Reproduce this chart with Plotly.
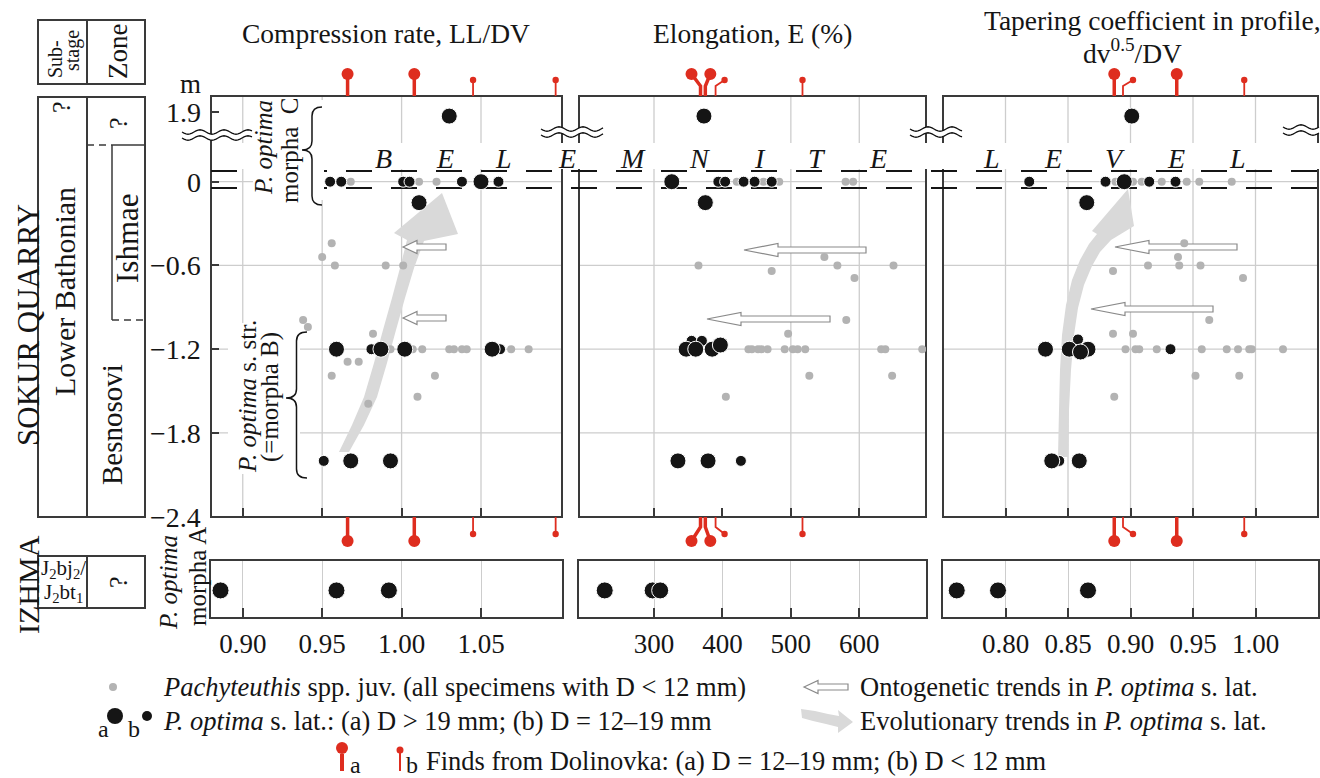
import numpy as np
import plotly.graph_objects as go

W, H = 1320, 778
FONT = "Liberation Serif"
INK = "#151515"
FRAME = "#3a3a3a"
GRID = "#cdcdcd"
JUV = "#b3b3b3"
RED = "#de2d1f"
EVO = "#d9d9d9"

# ============================ DATA ============================
# depth (m) relative to the Belemnite Level (0 m); 1.87 m lies above the scale break
depth_ticks = [1.9, 0, -0.6, -1.2, -1.8, -2.4]
depth_ticktext = ["1.9", "0", "\u22120.6", "\u22121.2", "\u22121.8", "\u22122.4"]

# --- Compression rate, LL/DV ---
cr_ticks = [0.90, 0.95, 1.00, 1.05]
cr_ticktext = ["0.90", "0.95", "1.00", "1.05"]
cr_juv_val = [0.956, 0.950, 0.958, 0.990, 1.001, 0.938, 0.941, 0.982, 0.966, 0.973,
              0.956, 1.021, 1.010, 0.979, 0.993, 1.007, 1.013, 1.030, 1.033, 1.038,
              1.041, 1.069, 1.080, 0.968, 1.011, 1.022]
cr_juv_dep = [-0.44, -0.54, -0.60, -0.60, -0.60, -0.99, -1.04, -1.09, -1.29, -1.29,
              -1.39, -1.39, -1.54, -1.59, -1.2, -1.2, -1.2, -1.2, -1.2, -1.2,
              -1.2, -1.2, -1.2, 0, 0, 0]
cr_a_val = [1.030, 1.050, 1.011, 0.959, 0.987, 1.002, 1.057, 0.968, 0.993]
cr_a_dep = [1.87, 0, -0.15, -1.2, -1.2, -1.2, -1.2, -2.0, -2.0]
cr_b_val = [0.955, 0.962, 1.001, 1.005, 1.038, 1.061, 0.981, 1.062, 0.951]
cr_b_dep = [0, 0, 0, 0, 0, 0, -1.2, -1.2, -2.0]
cr_izhma = [0.886, 0.959, 0.992]
cr_dol = [0.966, 1.008, 1.045, 1.097]
cr_dol_size = ["a", "a", "b", "b"]

# --- Elongation, E (%) ---
el_ticks = [300, 400, 500, 600]
el_ticktext = ["300", "400", "500", "600"]
el_juv_val = [549, 365, 568, 650, 472, 593, 581, 496,
              438, 443, 452, 457, 466, 491, 503, 510, 521, 632, 638, 692,
              527, 648, 405, 421, 460, 483, 580, 591]
el_juv_dep = [-0.54, -0.60, -0.60, -0.60, -0.64, -0.69, -0.99, -1.09,
              -1.2, -1.2, -1.2, -1.2, -1.2, -1.2, -1.2, -1.2, -1.2, -1.2, -1.2, -1.2,
              -1.39, -1.39, -1.54, 0, 0, 0, 0, 0]
el_a_val = [373, 326, 375, 347, 361, 385, 397, 335, 379]
el_a_dep = [1.87, 0, -0.15, -1.2, -1.2, -1.2, -1.17, -2.0, -2.0]
el_b_val = [394, 404, 431, 447, 472, 355, 370, 427]
el_b_dep = [0, 0, 0, 0, 0, -1.14, -1.14, -2.0]
el_izhma = [228, 298, 309]
el_dol = [368, 375, 390, 517]
el_dol_size = ["a", "a", "b", "b"]

# --- Tapering coefficient in profile, dv^0.5/DV ---
tp_ticks = [0.80, 0.85, 0.90, 0.95, 1.00]
tp_ticktext = ["0.80", "0.85", "0.90", "0.95", "1.00"]
tp_juv_val = [0.943, 0.938, 0.914, 0.939, 0.956, 0.886, 0.990, 0.963, 0.886, 0.902,
              0.896, 0.904, 0.907, 0.921, 0.957, 0.977, 0.986, 0.995, 0.997, 1.022,
              0.952, 0.987, 0.887, 0.888, 0.902, 0.909, 0.925, 0.945, 0.955, 0.981]
tp_juv_dep = [-0.44, -0.54, -0.60, -0.60, -0.60, -0.64, -0.69, -0.99, -1.09, -1.09,
              -1.2, -1.2, -1.2, -1.2, -1.2, -1.2, -1.2, -1.2, -1.2, -1.2,
              -1.39, -1.39, -1.54, 0, 0, 0, 0, 0, 0, 0]
tp_a_val = [0.901, 0.895, 0.865, 0.832, 0.851, 0.866, 0.860, 0.837, 0.859]
tp_a_dep = [1.87, 0, -0.15, -1.2, -1.2, -1.2, -1.22, -2.0, -2.0]
tp_b_val = [0.819, 0.880, 0.915, 0.936, 0.932, 0.858, 0.843]
tp_b_dep = [0, 0, 0, 0, -1.2, -1.13, -2.0]
tp_izhma = [0.761, 0.794, 0.866]
tp_dol = [0.887, 0.894, 0.937, 0.991]
tp_dol_size = ["a", "b", "a", "b"]

belemnite_letters = list("BELEMNITELEVEL")

# ============================ LAYOUT PARAMETERS ============================
BREAK_SHIFT = 1.4          # depths above the break are drawn 1.4 m lower
Y_RANGE = [-2.402, 0.614]
MAIN_TOP, MAIN_BOT = 96, 517
IZ_TOP, IZ_BOT = 561, 616.5
TXT = 27                   # tick text size
TTL = 27.5                 # titles
LEG = 26.5                 # legend text
PANELS = [
    dict(rng=[0.880, 1.101], dom=[211, 562], ticks=cr_ticks, tt=cr_ticktext, grid=cr_ticks,
         juv=(cr_juv_val, cr_juv_dep), a=(cr_a_val, cr_a_dep), b=(cr_b_val, cr_b_dep),
         iz=cr_izhma, dol=cr_dol, dsz=cr_dol_size, doff=[0, 0, 0, 0]),
    dict(rng=[190.4, 697.5], dom=[579, 926], ticks=el_ticks, tt=el_ticktext, grid=[300, 500, 600],
         juv=(el_juv_val, el_juv_dep), a=(el_a_val, el_a_dep), b=(el_b_val, el_b_dep),
         iz=el_izhma, dol=el_dol, dsz=el_dol_size, doff=[-9, 5, 9, 0]),
    dict(rng=[0.75, 1.05], dom=[943, 1318], ticks=tp_ticks, tt=tp_ticktext, grid=tp_ticks,
         juv=(tp_juv_val, tp_juv_dep), a=(tp_a_val, tp_a_dep), b=(tp_b_val, tp_b_dep),
         iz=tp_izhma, dol=tp_dol, dsz=tp_dol_size, doff=[0, 10, 0, 0]),
]


def PX(x):
    return x / W


def PY(y):
    return 1 - y / H


def P(x, y):
    return f"{PX(x):.5f},{PY(y):.5f}"


def disp(d):
    return d - BREAK_SHIFT if d > 1 else d


def poly(pts, close=True):
    return "M " + " L ".join(P(x, y) for x, y in pts) + (" Z" if close else "")


fig = go.Figure()
shapes = []
annotations = []


def ann(text, x, y, size=TXT, angle=0, xanchor="center", yanchor="middle", color=INK, height=None):
    a = dict(text=text, x=PX(x), y=PY(y), xref="paper", yref="paper",
             showarrow=False, textangle=angle, xanchor=xanchor, yanchor=yanchor,
             font=dict(family=FONT, size=size, color=color))
    if height:
        a["height"] = height
    annotations.append(a)


def line_px(x0, y0, x1, y1, color=FRAME, width=2, dash=None):
    d = dict(type="line", xref="paper", yref="paper", x0=PX(x0), y0=PY(y0), x1=PX(x1), y1=PY(y1),
             line=dict(color=color, width=width), layer="below")
    if dash:
        d["line"]["dash"] = dash
    shapes.append(d)


def rect_px(x0, y0, x1, y1, fill=None, color=FRAME, width=2):
    shapes.append(dict(type="rect", xref="paper", yref="paper", x0=PX(x0), y0=PY(y1), x1=PX(x1), y1=PY(y0),
                       fillcolor=fill if fill else "rgba(0,0,0,0)",
                       line=dict(color=color, width=width), layer="below"))


def circ_px(cx, cy, r, color):
    shapes.append(dict(type="circle", xref="paper", yref="paper", x0=PX(cx - r), x1=PX(cx + r),
                       y0=PY(cy + r), y1=PY(cy - r), fillcolor=color, line=dict(width=0), layer="below"))


# ---------------- axes ----------------
layout_axes = {}
for i, p in enumerate(PANELS):
    n = i + 1
    xs = "" if n == 1 else str(n)
    dom = [PX(p["dom"][0]), PX(p["dom"][1])]
    layout_axes[f"xaxis{xs}"] = dict(domain=dom, range=p["rng"], anchor=f"y{xs}", showgrid=False,
                                     zeroline=False, showline=False, ticks="inside", ticklen=9,
                                     tickwidth=1.6, tickcolor=FRAME, tickvals=p["ticks"],
                                     showticklabels=False, automargin=False)
    yax = dict(domain=[PY(MAIN_BOT), PY(MAIN_TOP)], range=Y_RANGE, anchor=f"x{xs}", showgrid=False,
               zeroline=False, showline=False, showticklabels=False, automargin=False)
    if n == 1:
        yax.update(ticks="inside", ticklen=8, tickwidth=1.6, tickcolor=FRAME,
                   tickvals=[disp(t) for t in depth_ticks])
    else:
        yax.update(ticks="")
    layout_axes[f"yaxis{xs}"] = yax
    m = n + 3
    layout_axes[f"xaxis{m}"] = dict(domain=dom, range=p["rng"], anchor=f"y{m}", showgrid=True,
                                    gridcolor=GRID, gridwidth=1.3, zeroline=False, showline=True,
                                    mirror=True, linecolor=FRAME, linewidth=2, ticks="inside",
                                    ticklen=9, tickwidth=1.6, tickcolor=FRAME, tickvals=p["ticks"],
                                    ticktext=p["tt"], tickfont=dict(family=FONT, size=TXT, color=INK),
                                    ticklabelstandoff=2, automargin=False)
    layout_axes[f"yaxis{m}"] = dict(domain=[PY(IZ_BOT), PY(IZ_TOP)], range=[0, 1], anchor=f"x{m}",
                                    showgrid=False, zeroline=False, showline=True, mirror=True,
                                    linecolor=FRAME, linewidth=2, ticks="", showticklabels=False,
                                    automargin=False)

# depth tick labels, placed on the depth axis scale
for t, tt in zip(depth_ticks, depth_ticktext):
    annotations.append(dict(text=tt, x=PX(203), y=disp(t), xref="paper", yref="y", showarrow=False,
                            xanchor="right", yanchor="middle", height=28,
                            font=dict(family=FONT, size=28, color=INK)))

# ---------------- gridlines ----------------
for i, p in enumerate(PANELS):
    xs = "" if i == 0 else str(i + 1)
    for g in p["grid"]:
        shapes.append(dict(type="line", xref=f"x{xs}", yref="paper", x0=g, x1=g,
                           y0=PY(MAIN_BOT), y1=PY(MAIN_TOP), line=dict(color=GRID, width=1.3), layer="below"))
    for d in [0, -0.6, -1.2, -1.8]:
        shapes.append(dict(type="line", xref="paper", yref=f"y{xs}", x0=PX(p["dom"][0]), x1=PX(p["dom"][1]),
                           y0=d, y1=d, line=dict(color=GRID, width=1.3), layer="below"))

# evolutionary trend arrows (under the dots)
EVO1 = [(339, 452), (352, 425), (364, 397), (374, 363), (383, 330), (392, 298), (400, 268), (407, 240),
        (394, 233), (442, 193), (458, 234), (424, 241), (414, 268), (405, 298), (396, 330), (387, 363),
        (377, 397), (364, 425), (349, 452)]
EVO3 = [(1058, 457), (1059, 410), (1060, 370), (1062, 335), (1066, 305), (1072, 280), (1080, 260),
        (1089, 244), (1097, 234), (1092, 231), (1128, 189), (1134, 226), (1111, 240), (1100, 252),
        (1092, 266), (1084, 285), (1078, 308), (1074, 335), (1071, 370), (1069, 410), (1068, 457)]
for pts in (EVO1, EVO3):
    shapes.append(dict(type="path", xref="paper", yref="paper", path=poly(pts), fillcolor=EVO,
                       line=dict(width=0), layer="below"))

# panel frames
for p in PANELS:
    rect_px(p["dom"][0], MAIN_TOP, p["dom"][1], MAIN_BOT)

# white band carrying "BELEMNITE LEVEL"
rect_px(214, 143, W + 2, 169, fill="white", color="white", width=0)

# dashed limits of the Belemnite Level
line_px(211, 171, W, 171, color=INK, width=2.2, dash="26px,19px")
line_px(211, 188, W, 188, color=INK, width=2.2, dash="26px,19px")

# scale-break wavy marks
for x0, x1, yc in [(182, 252, 132), (541, 603, 129), (910, 962, 129), (1283, 1320, 127)]:
    xx = np.arange(x0, x1 + 1, 2.0)
    up = yc + 2.2 * np.sin(2 * np.pi * (xx - x0) / 24.0)
    lo = up + 6
    fillpts = list(zip(xx, up)) + list(zip(xx[::-1], lo[::-1]))
    shapes.append(dict(type="path", xref="paper", yref="paper", path=poly(fillpts), fillcolor="white",
                       line=dict(width=0), layer="below"))
    for yy in (up, lo):
        shapes.append(dict(type="path", xref="paper", yref="paper", path=poly(list(zip(xx, yy)), close=False),
                           line=dict(color=INK, width=1.4), layer="below"))

# white cover behind brace labels
rect_px(253, 100, 324, 200, fill="white", color="white", width=0)
rect_px(228, 323, 300, 474, fill="white", color="white", width=0)


def brace(xe, xt, yt, yc, yb, r=9):
    xm = (xe + xt) / 2
    return (f"M {P(xe, yt)} Q {P(xm, yt)} {P(xm, yt + r)} L {P(xm, yc - r)} Q {P(xm, yc)} {P(xt, yc)} "
            f"Q {P(xm, yc)} {P(xm, yc + r)} L {P(xm, yb - r)} Q {P(xm, yb)} {P(xe, yb)}")


for b in [(322, 302, 107, 150, 205), (307, 286, 332, 398, 478)]:
    shapes.append(dict(type="path", xref="paper", yref="paper", path=brace(*b),
                       line=dict(color=INK, width=1.5), layer="below"))


# ontogenetic trend arrows
def onto(xtail, xtip, y, hl, hh=6.5, sh=3):
    return [(xtip, y), (xtip + hl, y - hh), (xtip + hl, y - sh), (xtail, y - sh), (xtail, y + sh),
            (xtip + hl, y + sh), (xtip + hl, y + hh)]


for a in [(446, 403, 247, 14), (446, 403, 318, 14), (866, 744, 250, 34), (830, 707, 319, 34),
          (1237, 1115, 247, 34), (1213, 1091, 309, 34), (848, 804, 687, 14)]:
    shapes.append(dict(type="path", xref="paper", yref="paper", path=poly(onto(*a)), fillcolor="white",
                       line=dict(color="#8a8a8a", width=1.2), layer="below"))

# ---------------- data traces ----------------
for i, p in enumerate(PANELS):
    xs = "" if i == 0 else str(i + 1)
    xa, ya = f"x{xs}", f"y{xs}"
    jv, jd = p["juv"]
    fig.add_trace(go.Scatter(x=jv, y=[disp(d) for d in jd], mode="markers", xaxis=xa, yaxis=ya,
                             marker=dict(color=JUV, size=8, line=dict(width=0))))
    bv, bd = p["b"]
    fig.add_trace(go.Scatter(x=bv, y=[disp(d) for d in bd], mode="markers", xaxis=xa, yaxis=ya,
                             marker=dict(color=INK, size=11, line=dict(color="white", width=1))))
    av, ad = p["a"]
    fig.add_trace(go.Scatter(x=av, y=[disp(d) for d in ad], mode="markers", xaxis=xa, yaxis=ya,
                             marker=dict(color=INK, size=16, line=dict(color="white", width=1))))
    m = i + 4
    fig.add_trace(go.Scatter(x=p["iz"], y=[0.47] * len(p["iz"]), mode="markers", xaxis=f"x{m}", yaxis=f"y{m}",
                             marker=dict(color=INK, size=17, line=dict(color="white", width=1))))
    # Dolinovka finds, projected above and below the section (x through the panel axis)
    scale = (p["rng"][1] - p["rng"][0]) / (p["dom"][1] - p["dom"][0])
    for v, s, off in zip(p["dol"], p["dsz"], p["doff"]):
        dx = off * scale
        big = s == "a"
        w = 3.5 if big else 1.8
        r = 6 if big else 3.2
        for top in (True, False):
            edge = MAIN_TOP if top else MAIN_BOT
            sgn = -1 if top else 1
            cpy = edge + sgn * ((22 if big else 16) if top else (24 if big else 17))
            knee = edge + sgn * 10
            if off:
                path = f"M {v},{PY(edge):.5f} L {v},{PY(knee):.5f} L {v + dx},{PY(cpy):.5f}"
            else:
                path = f"M {v},{PY(edge):.5f} L {v},{PY(cpy):.5f}"
            shapes.append(dict(type="path", xref=xa, yref="paper", path=path,
                               line=dict(color=RED, width=w), layer="below"))
            shapes.append(dict(type="circle", xref=xa, yref="paper", x0=v + dx - r * scale,
                               x1=v + dx + r * scale, y0=PY(cpy + r), y1=PY(cpy - r),
                               fillcolor=RED, line=dict(width=0), layer="below"))

# ---------------- stratigraphic column ----------------
rect_px(38, 20, 87, 84)
rect_px(87, 20, 145, 84)
rect_px(38, 97, 145, 517)
line_px(87, 97, 87, 517)
rect_px(38, 556, 145, 608)
line_px(87, 556, 87, 608)
line_px(87, 145, 112, 145, width=1.5, dash="7px,5px")
line_px(112, 145, 145, 145, width=1.5)
line_px(112, 145, 112, 320, width=1.5)
line_px(112, 320, 145, 320, width=1.5, dash="7px,5px")

ann("SOKUR QUARRY", 28, 325, size=31, angle=-90)
ann("IZHMA", 28, 585, size=30, angle=-90)
ann("Lower Bathonian", 65, 292, size=30, angle=-90)
ann("?", 62, 107, size=26, angle=-90)
ann("?", 118, 123, size=26, angle=-90)
ann("Ishmae", 127, 238, size=31, angle=-90)
ann("Besnosovi", 112, 425, size=29, angle=-90)
ann("?", 118, 582, size=26, angle=-90)
ann("J<sub>2</sub>bj<sub>2</sub>/", 63, 569, size=21)
ann("J<sub>2</sub>bt<sub>1</sub>", 63, 593, size=21)
ann("Sub-", 55, 59, size=20, angle=-90)
ann("stage", 72, 51, size=20, angle=-90)
ann("Zone", 118, 52, size=27, angle=-90)
ann("m", 191, 84, size=TXT, height=22)

# titles
ann("Compression rate, LL/DV", 386, 33, size=TTL)
ann("Elongation, E (%)", 752, 33, size=TTL)
ann("Tapering coefficient in profile,", 1152, 20, size=TTL)
ann("dv<sup>0.5</sup>/DV", 1132, 52, size=TTL)

# BELEMNITE LEVEL
for ch, x in zip(belemnite_letters, [383, 445, 503, 567, 633, 699, 760, 817, 878, 992, 1053, 1115, 1176, 1237]):
    ann(f"<i>{ch}</i>", x, 158, size=28)

# brace labels
ann("<i>P. optima</i>", 263, 148, size=25, angle=-90)
ann("morpha  C", 289, 150, size=25, angle=-90)
ann("<i>P. optima</i> s. str.", 247, 397, size=25, angle=-90)
ann("(=morpha B)", 270, 397, size=25, angle=-90)
ann("<i>P. optima</i>", 168, 582, size=25, angle=-90)
ann("morpha A", 197, 577, size=25, angle=-90)

# ---------------- legend ----------------
circ_px(113, 687, 4, JUV)
circ_px(115, 716, 8, INK)
circ_px(147, 716, 5, INK)
ann("a", 103, 729, size=24)
ann("b", 134, 729, size=24)
circ_px(342, 748, 6, RED)
line_px(342, 754, 342, 771, color=RED, width=4)
circ_px(400, 750, 3.5, RED)
line_px(400, 753, 400, 771, color=RED, width=2)
ann("a", 355, 765, size=24)
ann("b", 412, 765, size=24)
LEG_EVO = [(801, 709), (815, 711), (828, 714), (839, 716), (838, 710), (853, 722), (838, 733),
           (838, 727), (826, 724), (813, 721), (802, 718)]
shapes.append(dict(type="path", xref="paper", yref="paper", path=poly(LEG_EVO), fillcolor=EVO,
                   line=dict(width=0), layer="below"))
ann("<i>Pachyteuthis</i> spp. juv. (all specimens with D &lt; 12 mm)", 161, 687, size=LEG, xanchor="left")
ann("<i>P. optima</i> s. lat.: (a) D &gt; 19 mm; (b) D = 12\u201319 mm", 161, 721, size=LEG, xanchor="left")
ann("Finds from Dolinovka: (a) D = 12\u201319 mm; (b) D &lt; 12 mm", 424, 761, size=LEG, xanchor="left")
ann("Ontogenetic trends in <i>P. optima</i> s. lat.", 858, 687, size=LEG, xanchor="left")
ann("Evolutionary trends in <i>P. optima</i> s. lat.", 858, 721, size=LEG, xanchor="left")

fig.update_layout(width=W, height=H, margin=dict(l=0, r=0, t=0, b=0, autoexpand=False), paper_bgcolor="white",
                  plot_bgcolor="rgba(0,0,0,0)", showlegend=False, hovermode=False,
                  shapes=shapes, annotations=annotations, **layout_axes)
fig.update_traces(showlegend=False)
fig.write_html("out.html", config={"displayModeBar": False},
               post_script="document.body.style.margin='0px';")
